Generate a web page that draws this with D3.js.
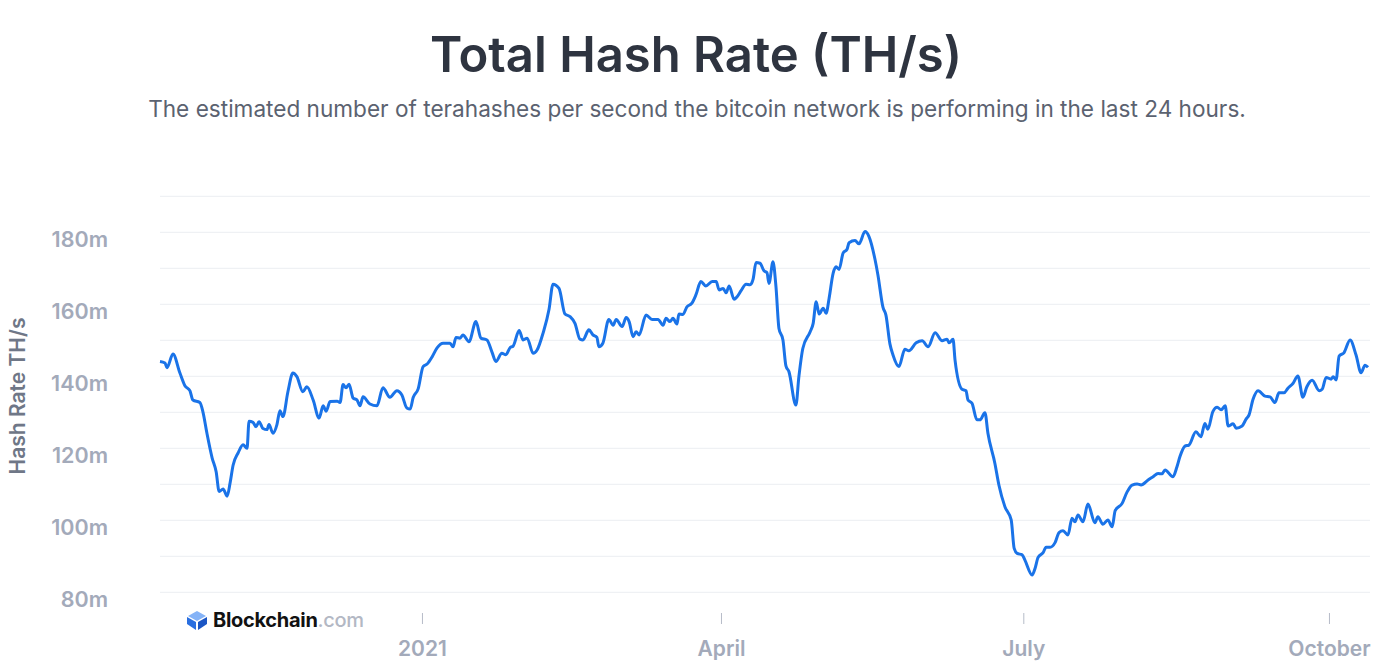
<!DOCTYPE html>
<html>
<head>
<meta charset="utf-8">
<script src="https://cdn.jsdelivr.net/npm/d3@7"></script>
<style>
  body { margin: 0; background: #fff; font-family: Inter, "Open Sans", sans-serif; }
  svg { display: block; }
</style>
</head>
<body>
<div id="chart"></div>
<script>
// days since 2020-10-14
const days = [0,1.5,2.1,3.9,6.0,7.5,9.0,9.9,12.0,12.9,14.1,15.7,16.9,17.8,19.0,20.2,21.1,22.0,23.5,25.0,26.2,26.8,28.0,28.9,29.8,31.0,32.2,32.8,34.0,35.2,36.1,37.0,38.5,40.0,41.2,43.0,44.2,46.1,47.9,49.1,50.0,51.2,53.3,54.2,55.1,56.0,56.9,58.1,59.3,60.2,61.1,63.2,65.3,67.1,69.2,71.3,72.8,74.3,75.3,76.2,77.7,79.2,80.4,81.9,83.4,85.2,87.3,88.2,89.1,90.3,91.2,93.0,95.1,96.6,98.4,99.9,101.1,102.9,104.1,105.4,106.3,108.1,109.3,110.5,112.3,113.5,115.3,117.1,118.3,120.1,121.9,123.4,124.9,126.4,127.3,129.1,130.3,131.5,132.1,
  133.3,135.1,136.4,137.3,139.1,140.3,141.2,142.4,143.3,144.2,146.3,148.1,149.9,151.4,152.3,153.5,154.4,155.6,156.2,157.4,158.6,160.1,161.3,162.8,164.3,166.2,167.4,168.3,169.5,170.4,171.3,172.8,173.7,174.9,176.4,177.6,178.5,179.4,180.6,181.8,182.7,183.3,184.5,185.4,186.3,187.5,188.4,189.3,191.4,192.3,193.5,195.7,196.6,197.5,198.4,199.6,200.5,201.4,202.6,203.5,204.4,205.6,206.8,207.4,209.2,210.4,212.2,213.4,215.2,216.1,217.6,218.5,219.7,220.6,222.4,224.2,225.4,227.6,229.4,231.2,233.3,235.4,236.9,237.5,238.7,
  239.3,241.4,242.6,243.2,244.4,245.9,246.8,248.3,249.2,251.3,252.5,254.3,256.2,257.1,258.0,259.5,260.4,262.5,263.4,264.3,265.8,266.7,267.9,269.4,270.6,271.8,273.3,274.5,275.4,276.3,277.8,279.3,281.4,282.3,283.8,285.3,286.6,287.5,289.6,291.1,292.6,294.1,295.3,297.4,298.9,300.4,301.6,302.5,304.9,306.1,307.0,308.5,309.7,311.8,313.3,314.5,315.4,316.9,318.2,319.4,320.6,321.5,323.0,323.9,325.7,326.9,327.8,329.0,330.5,332.6,334.1,335.6,336.8,338.3,339.5,341.0,342.5,344.0,345.2,346.8,348.9,349.8,351.0,352.5,353.1,354.0,354.9,356.4,358.2,360.0,361.5,362.7,363.6];

// hash rate, millions of TH/s
const hashRate = [144.1,143.7,142.4,146.2,140.9,137.4,136,133.4,132.7,130.2,124.3,117.3,113.5,108,108.7,106.7,110.4,115.3,118.7,121,120,127.5,127.2,126,127.4,125.5,125.2,126.6,124.2,126.6,130.4,128.8,135.7,140.9,139.9,135.7,137.1,133.4,128.4,131.8,130.3,133,133.1,132.7,137.7,136.8,137.8,134,133.4,131.8,134.3,132.3,131.8,136.8,134.2,136,134.8,131.2,130.9,134.1,136.5,142.7,143.4,145.4,147.9,149.2,149.2,148.2,150.8,150.6,151.5,149.6,155.2,150.6,150.1,146.8,144.1,146.4,146,148,148.4,152.7,150.1,150.6,146.4,147.3,152,158.6,165.6,164.4,157.3,156.6,154.7,150.3,150.1,152.9,151.5,150.8,148.2,
  149.2,155.8,154.2,155.8,153.8,156.3,155.2,151,152.4,151.5,157,155.8,155.8,154.2,156.1,155.2,156.1,154.5,157.3,157.2,159.3,160.3,162.6,166.3,165.1,166.3,166.3,164,164.4,163.2,165.1,161.4,162.1,163.8,165.6,165.4,166.9,171.6,171.4,169.3,168.8,165.8,171.8,164.9,153.3,150.1,142.9,141.3,132,139.9,147.8,152.4,154.7,160.7,157.3,158.9,157.5,161.7,168.6,170.4,169.7,174.2,175.3,177.1,177.7,176.8,180.2,178.8,172.5,168.1,159.2,157,149,146,142.7,147.5,147.1,149.3,149.9,148.2,152.1,149.9,150.3,149.3,150.3,
  144.5,136.4,136,133.4,132.5,127.9,127.9,129.9,124.2,115.8,109.8,103.8,100.1,92.2,90.8,90.4,88.8,84.8,86.7,89.7,91,92.5,92.5,93.8,96.6,97.1,95.9,100.6,99.6,101.5,99.6,104.5,99.3,101,98.9,100.1,98.2,102.7,104.7,107.9,109.8,110.1,109.8,111.2,112.1,113,112.9,114,112.1,114.9,117.7,120.6,120.9,124.6,123.2,126.9,125.3,130.2,131.4,130.7,131.8,126.2,126.8,125.6,126.2,128.1,129.3,133.6,136,134.5,134.3,132.7,135.4,135.4,136.7,138,140.1,134.2,137.1,138.9,136,136.4,139.7,139.2,139.9,139,145.6,146.6,150.1,145.9,141,143.1,142.5];

const yTicks = [80, 100, 120, 140, 160, 180];
const xTicks = ["2021-01-01", "2021-04-01", "2021-07-01", "2021-10-01"];
const xTickLabels = ["2021", "April", "July", "October"];

const W = 1389, H = 666;
const start = new Date(2020, 9, 14);
const toDate = (d) => new Date(start.getTime() + d * 864e5);

const svg = d3.select("#chart").append("svg").attr("width", W).attr("height", H);

const x = d3.scaleTime()
  .domain([start, toDate(364.2)])
  .range([160, 1370]);
const y = d3.scaleLinear().domain([80, 190]).range([592.3, 196.3]);

// title
svg.append("text").attr("x", 696).attr("y", 72).attr("text-anchor", "middle")
  .attr("font-size", 49).attr("font-weight", 600).attr("fill", "#2e3440")
  .text("Total Hash Rate (TH/s)");
svg.append("text").attr("x", 697).attr("y", 117).attr("text-anchor", "middle")
  .attr("font-size", 22.6).attr("fill", "#5b6270")
  .text("The estimated number of terahashes per second the bitcoin network is performing in the last 24 hours.");

// grid
svg.append("g").selectAll("line")
  .data(d3.range(80, 191, 10))
  .join("line")
  .attr("x1", 160).attr("x2", 1370)
  .attr("y1", (d) => y(d)).attr("y2", (d) => y(d))
  .attr("stroke", "#eceef2").attr("stroke-width", 1);

// y labels
svg.append("g").selectAll("text")
  .data(yTicks)
  .join("text")
  .attr("x", 108).attr("y", (d) => y(d) + 15)
  .attr("text-anchor", "end")
  .attr("font-size", 21.5).attr("font-weight", 600).attr("fill", "#a3aaba")
  .text((d) => d + "m");

svg.append("text")
  .attr("transform", "translate(25,396) rotate(-90)")
  .attr("text-anchor", "middle")
  .attr("font-size", 21).attr("font-weight", 600).attr("fill", "#6f7787")
  .text("Hash Rate TH/s");

// x ticks
const xt = svg.append("g").selectAll("g")
  .data(xTicks)
  .join("g")
  .attr("transform", (d) => `translate(${x(new Date(d + "T00:00:00"))},0)`);
xt.append("line").attr("y1", 613).attr("y2", 624).attr("stroke", "#b6bcc8");
xt.append("text").attr("y", 656).attr("text-anchor", "middle")
  .attr("font-size", 21).attr("font-weight", 600).attr("fill", "#a3aaba")
  .text((d, i) => xTickLabels[i]);

// line
const data = days.map((d, i) => ({ date: toDate(d), v: hashRate[i] }));
svg.append("path")
  .datum(data)
  .attr("fill", "none")
  .attr("stroke", "#1a73e8")
  .attr("stroke-width", 3)
  .attr("stroke-linejoin", "round")
  .attr("d", d3.line().x((d) => x(d.date)).y((d) => y(d.v)).curve(d3.curveMonotoneX));

// logo
const logo = svg.append("g").attr("transform", "translate(187,611)");
logo.append("path").attr("d", "M10,0 L19,5 L10,10 L1,5 Z").attr("fill", "#85b3f7");
logo.append("path").attr("d", "M0,6 L9,11 L9,19 L0,13 Z").attr("fill", "#2a6fe0");
logo.append("path").attr("d", "M20,6 L11,11 L11,19 L20,13 Z").attr("fill", "#1b56c4");
const lt = svg.append("text").attr("x", 213).attr("y", 627)
  .attr("font-size", 20).attr("font-weight", 700).attr("letter-spacing", -0.3);
lt.append("tspan").attr("fill", "#121212").text("Blockchain");
lt.append("tspan").attr("fill", "#b3b8c4").attr("font-weight", 500).text(".com");
</script>
</body>
</html>
